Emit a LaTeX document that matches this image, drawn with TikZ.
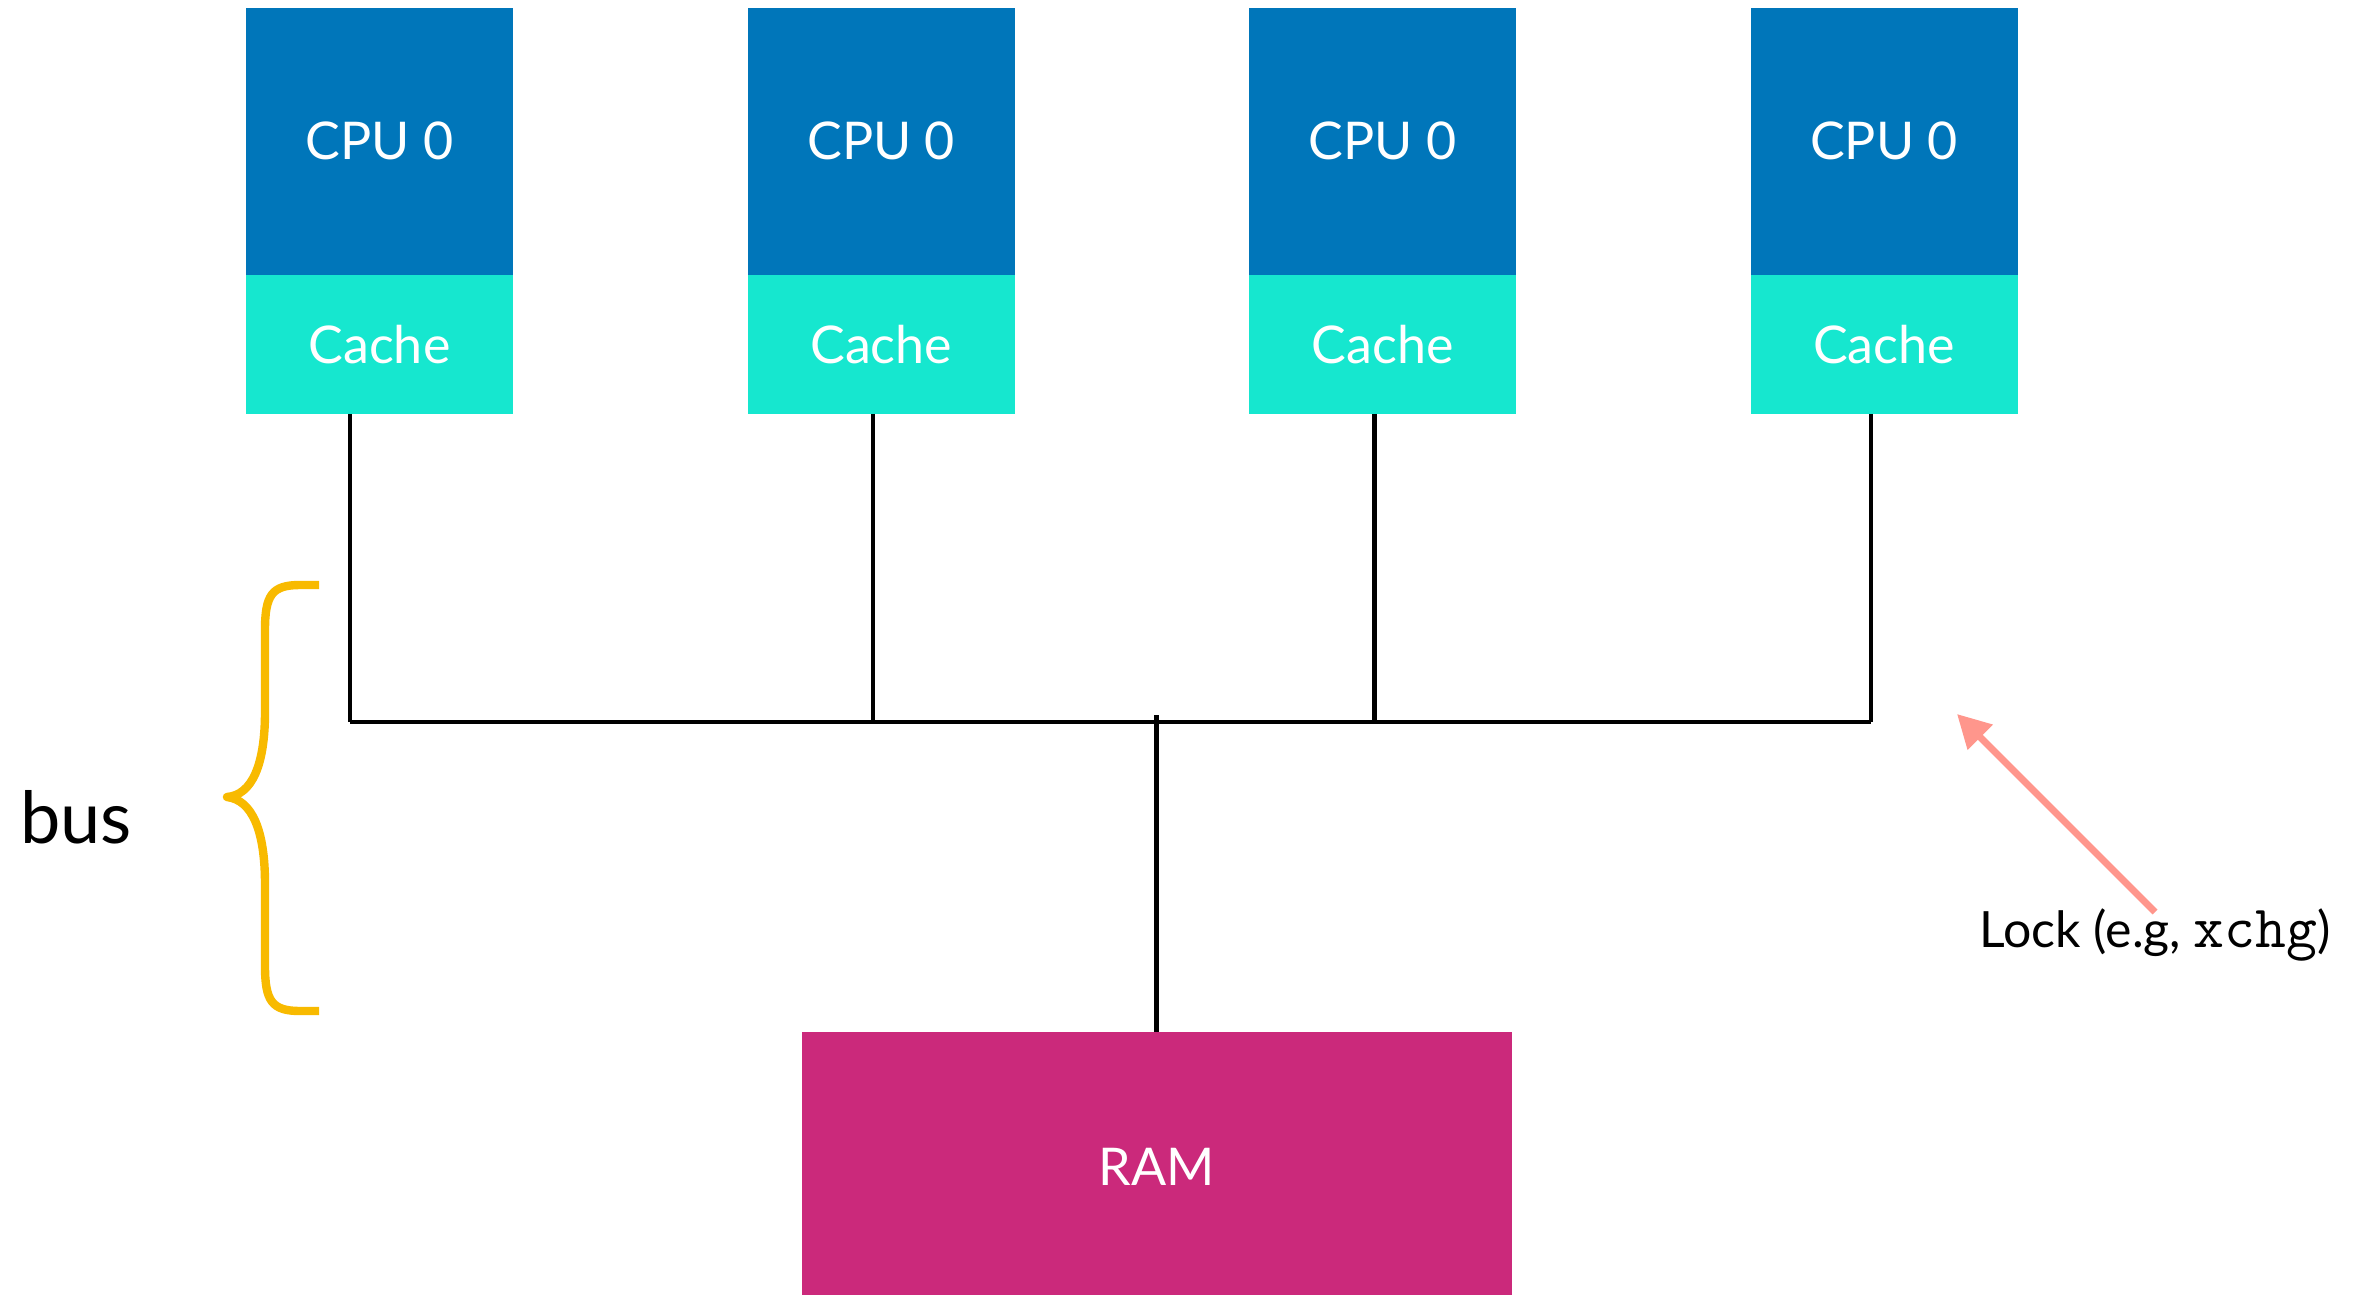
\documentclass[tikz,border=0pt]{standalone}
\usepackage{fontspec}
\setmainfont{Lato}
\usetikzlibrary{arrows.meta}

\definecolor{cpublue}{HTML}{0076BA}
\definecolor{cachecyan}{HTML}{16E7CF}
\definecolor{rammagenta}{HTML}{CB297B}
\definecolor{braceyellow}{HTML}{F8BA00}
\definecolor{locksalmon}{HTML}{FF968C}

\begin{document}
\begin{tikzpicture}[x=0.5pt, y=-0.5pt,
  unitbox/.style={rectangle, inner sep=0pt, outer sep=0pt, minimum width=133.5pt,
    text=white, font=\fontsize{26}{30}\selectfont, anchor=north west},
  cpubox/.style={unitbox, fill=cpublue, minimum height=133.6pt},
  cachebox/.style={unitbox, fill=cachecyan, minimum height=69.5pt},
  rambox/.style={rectangle, inner sep=0pt, outer sep=0pt, fill=rammagenta,
    minimum width=355.25pt, minimum height=135pt, text=white,
    font=\fontsize{26}{30}\selectfont, anchor=north},
  wire/.style={line width=2.4pt, black},
  bracket/.style={line width=4.2pt, braceyellow, line join=round},
  lockarrow/.style={line width=3.5pt, locksalmon,
    -{Triangle[length=16.5pt, width=17pt]}}
]
\useasboundingbox (0,0) rectangle (2376,1295);

% processors with their caches
\node[cpubox] (cpu1) at (246,7.7) {CPU 0};
\node[cachebox] (cache1) at (cpu1.south west) {Cache};
\node[cpubox] (cpu2) at (747.7,7.7) {CPU 0};
\node[cachebox] (cache2) at (cpu2.south west) {Cache};
\node[cpubox] (cpu3) at (1249,7.7) {CPU 0};
\node[cachebox] (cache3) at (cpu3.south west) {Cache};
\node[cpubox] (cpu4) at (1750.5,7.7) {CPU 0};
\node[cachebox] (cache4) at (cpu4.south west) {Cache};

% memory
\node[rambox] (ram) at (1156.75,1032) {RAM};

% bus taps
\coordinate (tap1) at (350,722);
\coordinate (tap2) at (873,722);
\coordinate (tap3) at (1374.5,722);
\coordinate (tap4) at (1871,722);
\coordinate (ramtap) at (1156.75,715);

\draw[wire] (cache1.south -| tap1) -- (tap1);
\draw[wire] (cache2.south -| tap2) -- (tap2);
\draw[wire] (cache3.south -| tap3) -- (tap3);
\draw[wire] (cache4.south -| tap4) -- (tap4);
\draw[wire] (tap1) -- (tap4);
\draw[wire] (ramtap) -- (ram.north);

% bus brace and label
\draw[bracket] (319,585) -- (300,585)
  .. controls (272,585) and (265,595) .. (265,630) -- (265,712)
  .. controls (265,765) and (252,795) .. (227,797)
  .. controls (252,800) and (265,830) .. (265,884) -- (265,966)
  .. controls (265,1001) and (272,1011) .. (300,1011) -- (319,1011);
\node[anchor=base west, inner sep=0pt, font=\fontsize{36}{40}\selectfont] (buslabel) at (20,843) {bus};

% lock annotation
\node[anchor=base west, inner sep=0pt, font=\fontsize{25}{29}\selectfont] (lock) at (1979,947)
  {Lock (e.g, {\fontsize{30}{34}\ttfamily xchg})};
\coordinate (locktail) at (2155,912);
\coordinate (locktip) at (1957,714);
\draw[lockarrow] (locktail) -- (locktip);
\end{tikzpicture}
\end{document}
